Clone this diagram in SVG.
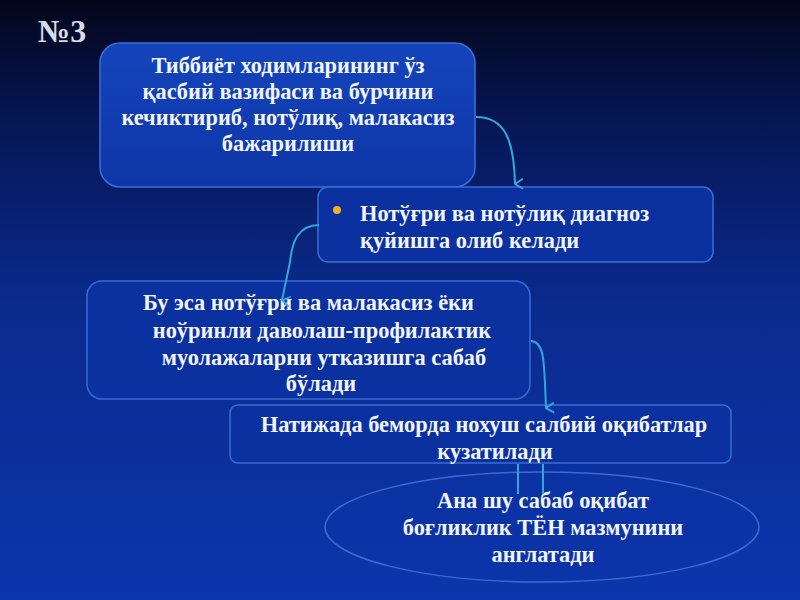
<svg xmlns="http://www.w3.org/2000/svg" width="800" height="600" viewBox="0 0 800 600">
<defs>
<linearGradient id="bg" x1="0" y1="0" x2="0" y2="1">
<stop offset="0" stop-color="#03061a"/>
<stop offset="0.2" stop-color="#061654"/>
<stop offset="0.5" stop-color="#0a2a8c"/>
<stop offset="1" stop-color="#0c36ad"/>
</linearGradient>
<linearGradient id="b1" x1="0" y1="0" x2="0" y2="1">
<stop offset="0" stop-color="#1444bc"/>
<stop offset="1" stop-color="#0e36a6"/>
</linearGradient>
<marker id="arr" viewBox="0 0 12 12" refX="6" refY="11" markerWidth="12" markerHeight="12" orient="auto-start-reverse" markerUnits="userSpaceOnUse">
<path d="M1,3 L6,11 L11,3" fill="none" stroke="#3aa6e0" stroke-width="1.8"/>
</marker>
<style>
.t{font-family:"Liberation Serif","DejaVu Serif",serif;font-weight:bold;font-size:22.4px;fill:#f2f5ff;}
.c{text-anchor:middle;}
.box{fill:#0b30a0;stroke:#3a6cd0;stroke-width:1.5;}
.con{fill:none;stroke:#2fa6dc;stroke-width:2;}
</style>
</defs>
<rect width="800" height="600" fill="url(#bg)"/>
<text x="38" y="42" style="font-family:'Liberation Serif',serif;font-weight:bold;font-size:32px;fill:#d8dce8;">№3</text>

<g id="node1">
<rect x="100" y="43" width="375" height="144" rx="20" fill="url(#b1)" stroke="#3a70d8" stroke-width="1.5"/>
<text class="t c" x="288" y="73">Тиббиёт ходимларининг ўз</text>
<text class="t c" x="288" y="99">қасбий вазифаси ва бурчини</text>
<text class="t c" x="288" y="125">кечиктириб, нотўлиқ, малакасиз</text>
<text class="t c" x="288" y="151">бажарилиши</text>
</g>

<g id="node2">
<rect class="box" x="318" y="187" width="395" height="75" rx="10"/>
<circle cx="337" cy="210" r="4" fill="#f0b020"/>
<text class="t" x="360" y="221">Нотўғри ва нотўлиқ диагноз</text>
<text class="t" x="360" y="248">қуйишга олиб келади</text>
</g>

<g id="node3">
<rect class="box" x="87" y="281" width="443" height="118" rx="15"/>
<text class="t" x="143" y="310">Бу эса нотўғри ва малакасиз ёки</text>
<text class="t c" x="322" y="338">ноўринли даволаш-профилактик</text>
<text class="t c" x="324" y="365">муолажаларни утказишга сабаб</text>
<text class="t c" x="321" y="391">бўлади</text>
</g>

<g id="node4">
<rect class="box" x="230" y="405" width="501" height="58" rx="8"/>
<text class="t c" x="484" y="432">Натижада беморда нохуш салбий оқибатлар</text>
<text class="t c" x="495" y="459">кузатилади</text>
</g>

<g id="node5">
<ellipse cx="542" cy="527" rx="217" ry="55" fill="#0c34a8" fill-opacity="0.4" stroke="#3a6cd0" stroke-width="1.5"/>
<text class="t c" x="543" y="508">Ана шу сабаб оқибат</text>
<text class="t c" x="543" y="535">боғликлик ТЁН мазмунини</text>
<text class="t c" x="543" y="562">англатади</text>
</g>

<g id="connectors">
<path class="con" d="M476,117 C505,117 514,140 515,184" marker-end="url(#arr)"/>
<path class="con" d="M319,225 C298,225 292,242 290,262 L282,300" marker-end="url(#arr)"/>
<path class="con" d="M531,341 C545,342 544,362 546,408" marker-end="url(#arr)"/>
<path class="con" d="M518,464 L518,494 M543,464 L543,494" stroke-width="1.5"/>
</g>
</svg>
